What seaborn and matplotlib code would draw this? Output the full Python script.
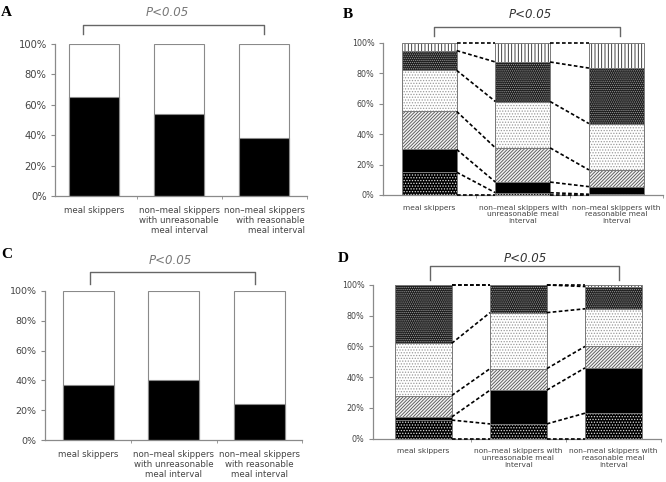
import matplotlib
matplotlib.use("Agg")
import matplotlib.pyplot as plt
import seaborn as sns
import numpy as np
from matplotlib.lines import Line2D

# ---------------- data ----------------
groups_AC = ["meal skippers",
             "non\u2013meal skippers\nwith unreasonable\nmeal interval",
             "non\u2013meal skippers\nwith reasonable\nmeal interval"]
groups_BD = ["meal skippers",
             "non\u2013meal skippers with\nunreasonable meal\ninterval",
             "non\u2013meal skippers with\nreasonable meal\ninterval"]
yticks = [0, 20, 40, 60, 80, 100]
ytick_labels = ["0%", "20%", "40%", "60%", "80%", "100%"]
p_label = "P<0.05"

# Panel A / C: black share (rest is white up to 100%)
A_black = [65, 54, 38]
C_black = [37, 40, 24]

# Panel B segments (bottom -> top), one value per group
B_dark_dotted = [15, 1.5, 0.5]
B_black = [15, 7, 5]
B_diagonal = [25, 22.5, 11]
B_light_dotted = [27, 30.5, 30.5]
B_dark_grid = [13, 26, 36.5]
B_vertical = [5, 12.5, 16.5]

# Panel D segments (bottom -> top)
D_dark_dotted = [12, 9.5, 16.5]
D_black = [2, 22, 29.5]
D_diagonal = [14, 14, 14]
D_light_dotted = [34, 36.5, 24.5]
D_dark_grid = [38, 18, 14.5]
D_vertical = [0, 0, 1]

# ---------------- styles ----------------
plt.rcParams["hatch.linewidth"] = 0.6
TXT = "#444444"
SPINE = "#8a8a8a"
# (facecolor, hatch, hatchcolor) bottom -> top
patterns = [
    ("black", "......", "#dddddd"),
    ("black", None, "black"),
    ("#f2f2f2", "//////////", "#505050"),
    ("white", "......", "#9a9a9a"),
    ("#1c1c1c", "........", "#9a9a9a"),
    ("white", "|||||", "#222222"),
]

fig = plt.figure(figsize=(6.66, 4.82), dpi=100)
W, H = 666.0, 482.0


def add_axes_px(left, right, top, bottom):
    return fig.add_axes([left / W, 1 - bottom / H, (right - left) / W, (bottom - top) / H])


def style_axes(ax, groups, xlim, ylab_size, xlab_size, multi=None):
    ax.set_ylim(0, 100)
    ax.set_xlim(*xlim)
    for s in ["top", "right"]:
        ax.spines[s].set_visible(False)
    for s in ["left", "bottom"]:
        ax.spines[s].set_color(SPINE)
        ax.spines[s].set_linewidth(0.9)
    ax.set_yticks(yticks)
    ax.set_yticklabels(ytick_labels, fontsize=ylab_size, color=TXT)
    ax.tick_params(axis="y", direction="out", length=3, color=SPINE, pad=3)
    ax.set_xticks([0, 1, 2])
    ax.set_xticklabels(groups, fontsize=xlab_size, color=TXT, linespacing=1.15)
    ax.tick_params(axis="x", which="major", length=0, pad=7)
    ax.set_xticks([0.5, 1.5, 2.5], minor=True)
    ax.tick_params(axis="x", which="minor", length=2.5, direction="out", color=SPINE)
    ax.set_xlabel("")
    ax.set_ylabel("")
    if multi is not None:
        for lab, m in zip(ax.get_xticklabels(), multi):
            lab.set_multialignment(m)


def simple_panel(ax, groups, black, width):
    full = [100] * len(groups)
    sns.barplot(x=groups, y=full, color="white", saturation=1, width=width,
                edgecolor=SPINE, linewidth=0.8, errorbar=None, ax=ax)
    sns.barplot(x=groups, y=black, color="black", saturation=1, width=width,
                edgecolor=SPINE, linewidth=0.8, errorbar=None, ax=ax)


def stacked_panel(ax, groups, segs, width):
    cum = np.cumsum(np.array(segs, dtype=float), axis=0)  # shape (nseg, ngroups)
    # draw from top cumulative down so lower segments cover
    for k in range(len(segs) - 1, -1, -1):
        face, hatch, hcol = patterns[k]
        sns.barplot(x=groups, y=list(cum[k]), color=face, saturation=1, width=width,
                    hatch=hatch, edgecolor=hcol, linewidth=0, errorbar=None, ax=ax)
    for k in range(len(segs)):
        sns.barplot(x=groups, y=list(cum[k]), fill=False, color="#7a7a7a", saturation=1,
                    width=width, linewidth=0.7, errorbar=None, ax=ax)
    # dashed connectors between neighbouring bars
    levels = np.vstack([np.zeros(len(groups)), cum])
    for i in range(len(groups) - 1):
        for k in range(levels.shape[0]):
            ax.plot([i + width / 2, i + 1 - width / 2], [levels[k, i], levels[k, i + 1]],
                    ls=(0, (2.2, 1.4)), color="black", lw=1.2, clip_on=False, zorder=5)


def bracket(x0, x1, y, yleg, color="#666666"):
    fig.add_artist(Line2D([x0 / W, x0 / W, x1 / W, x1 / W],
                          [1 - yleg / H, 1 - y / H, 1 - y / H, 1 - yleg / H],
                          color=color, lw=1.0))


def ptext(x, y, color):
    fig.text(x / W, 1 - y / H, p_label, ha="center", va="center", fontsize=8.5,
             style="italic", color=color)


def letter(x, y, s):
    fig.text(x / W, 1 - y / H, s, ha="left", va="center", fontsize=11,
             fontweight="bold", family=["Liberation Serif", "DejaVu Serif"])


# ---------------- Panel A ----------------
axA = add_axes_px(55, 307, 44, 196)
simple_panel(axA, groups_AC, A_black, 0.587)
style_axes(axA, groups_AC, (-0.457, 2.498), 7.2, 6.2, multi=["center", "center", "right"])

# ---------------- Panel B ----------------
axB = add_axes_px(383, 663, 43, 195)
stacked_panel(axB, groups_BD, [B_dark_dotted, B_black, B_diagonal, B_light_dotted,
                              B_dark_grid, B_vertical], 0.585)
style_axes(axB, groups_BD, (-0.495, 2.484), 5.8, 5.4)

# ---------------- Panel C ----------------
axC = add_axes_px(45, 302, 291, 440)
simple_panel(axC, groups_AC, C_black, 0.596)
style_axes(axC, groups_AC, (-0.509, 2.497), 6.8, 6.2)

# ---------------- Panel D ----------------
axD = add_axes_px(373, 661, 285, 438.5)
stacked_panel(axD, groups_BD, [D_dark_dotted, D_black, D_diagonal, D_light_dotted,
                              D_dark_grid, D_vertical], 0.597)
style_axes(axD, groups_BD, (-0.529, 2.487), 5.8, 5.4)

# ---------------- annotations ----------------
bracket(83, 264, 25, 34)
ptext(167, 12, "#777777")
bracket(434, 620, 27, 36)
ptext(530, 15, "#333333")
bracket(90, 255, 272, 284)
ptext(170, 261, "#777777")
bracket(430, 619, 266, 280)
ptext(525, 259, "#333333")

letter(1, 12, "A")
letter(343, 15, "B")
letter(1, 254, "C")
letter(338, 258, "D")

fig.savefig("out.png", dpi=100)
